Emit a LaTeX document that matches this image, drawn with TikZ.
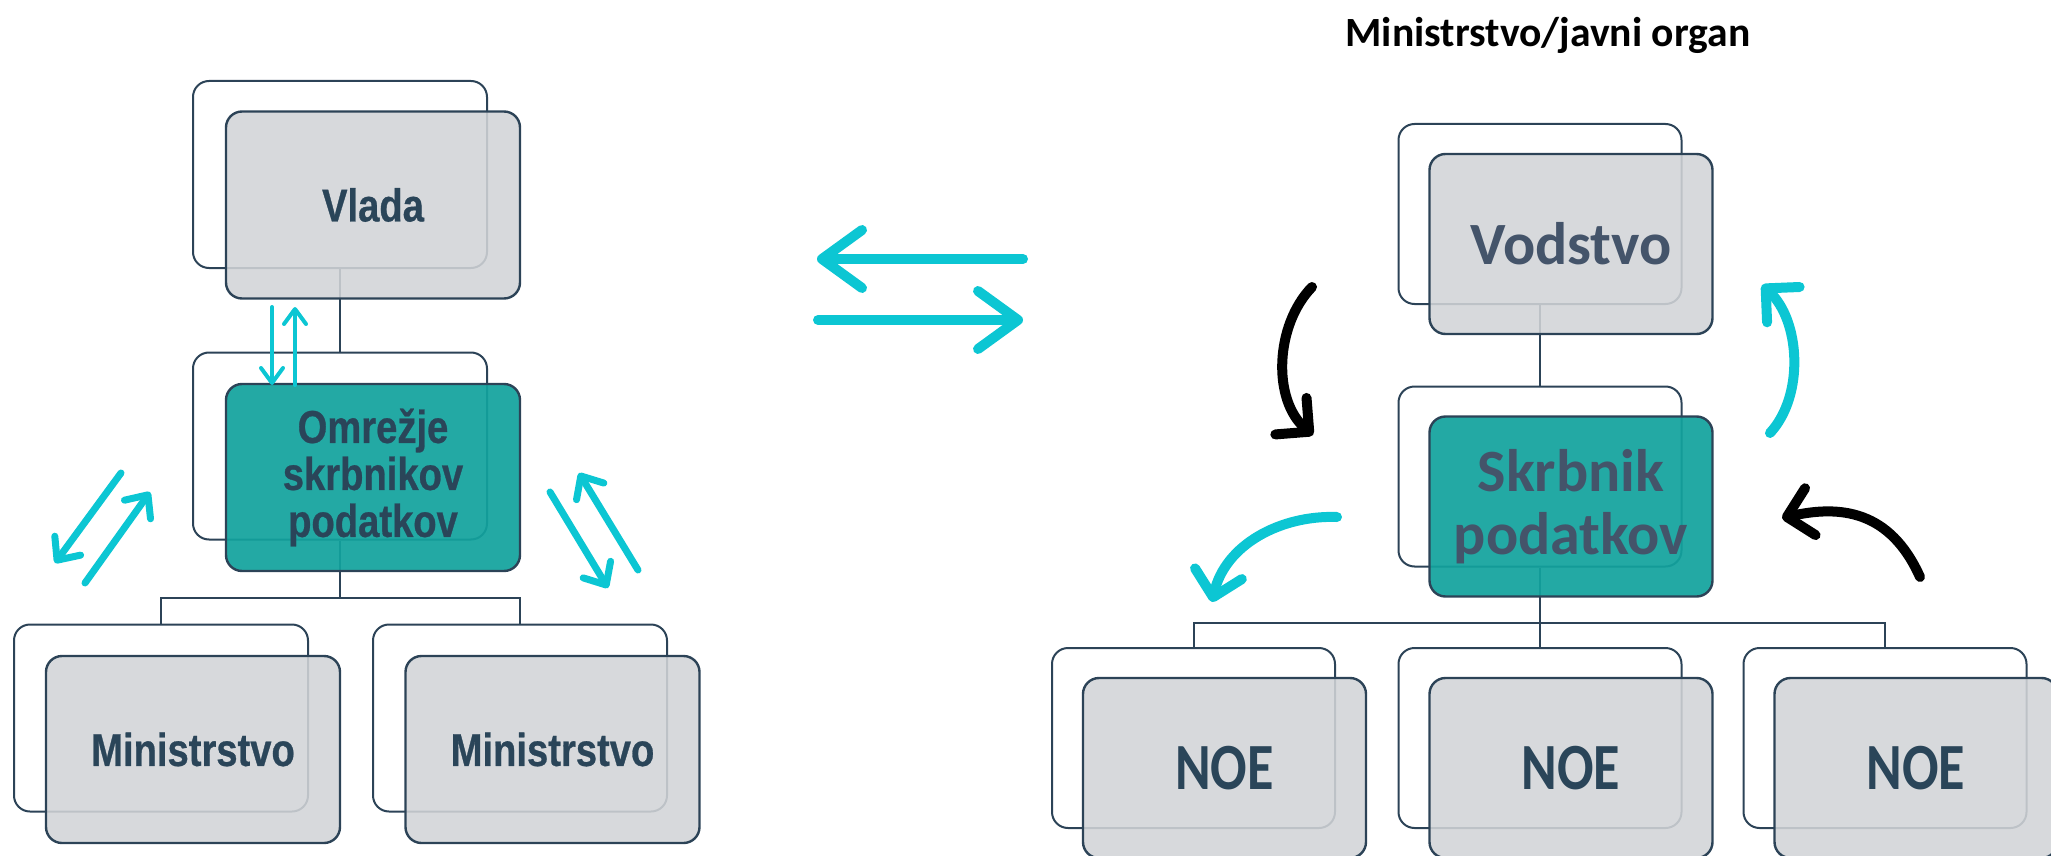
\documentclass[tikz,border=0pt]{standalone}
\usepackage{fontspec}
\setmainfont{Liberation Sans}
\newfontfamily\arialn[FakeStretch=0.83,FakeBold=0.6]{Liberation Sans}
\newfontfamily\calib{Carlito}
\newfontfamily\calibn[FakeStretch=0.82]{Carlito}
\usetikzlibrary{arrows.meta}

\definecolor{edge}{HTML}{2C4357}
\definecolor{boxgrey}{HTML}{D2D4D7}
\definecolor{skrteal}{HTML}{12A29D}
\definecolor{arrcyan}{HTML}{0CC6D3}
\definecolor{txtdark}{HTML}{2A4559}
\definecolor{txtslate}{HTML}{44546A}

\tikzset{
	backbox/.style={draw=edge, line width=1pt, rounded corners=8pt, inner sep=0pt},
	frontbox/.style={draw=edge, line width=1.2pt, rounded corners=8pt, inner sep=0pt,
		fill opacity=0.88, text opacity=1, align=center},
	leftsize/.style={minimum width=147pt, minimum height=93.5pt},
	rightsize/.style={minimum width=141.5pt, minimum height=90pt},
	greybox/.style={frontbox, fill=boxgrey},
	tealbox/.style={frontbox, fill=skrteal, fill opacity=0.93},
	lefttext/.style={font=\arialn\bfseries\fontsize{23}{23.5}\selectfont, text=txtdark},
	righttext/.style={font=\calib\bfseries\fontsize{30}{31.5}\selectfont, text=txtslate},
	noetext/.style={font=\calibn\bfseries\fontsize{33}{33}\selectfont, text=txtdark},
	link/.style={draw=edge, line width=1pt},
	bigarrow/.style={draw=arrcyan, line width=5pt, line cap=round,
		-{Straight Barb[length=20pt,width=29pt,round]}},
	midarrow/.style={draw=arrcyan, line width=3.5pt, line cap=round,
		-{Straight Barb[length=9pt,width=16pt,round]}},
	smallarrow/.style={draw=arrcyan, line width=2pt, line cap=round,
		-{Straight Barb[length=7.5pt,width=11pt,round]}},
	curvearrow/.style={line width=5pt, line cap=round,
		-{Straight Barb[length=12pt,width=24pt,round]}}
}

\begin{document}
\begin{tikzpicture}[x=0.5pt, y=-0.5pt]
	\useasboundingbox (0,0) rectangle (2051,856);

	% left: back outlines
	\node [backbox, leftsize] (vladaB) at (340,174.5) {};
	\node [backbox, leftsize] (omrB) at (340,446) {};
	\node [backbox, leftsize] (minAB) at (161,718) {};
	\node [backbox, leftsize] (minBB) at (520,718) {};
	% |
	\coordinate (splitL) at (340,598);
	\draw [link] (vladaB.south) -- (omrB.north);
	\draw [link] (omrB.south) -- (splitL);
	\draw [link] (minAB.north) |- (splitL) -| (minBB.north);
	% left: boxes
	\node [greybox, leftsize, lefttext] (vlada) at (373,205) {Vlada};
	\node [tealbox, leftsize, lefttext] (omr) at (373,477.5) {Omrežje\\skrbnikov\\podatkov};
	\node [greybox, leftsize, lefttext] (minA) at (193,749.5) {Ministrstvo};
	\node [greybox, leftsize, lefttext] (minB) at (552.5,749.5) {Ministrstvo};

	% left: arrows
	\draw [smallarrow] (272,307) -- (272,385);
	\draw [smallarrow] (295,385) -- (295,307);
	\draw [midarrow] (121,473) -- (55,563);
	\draw [midarrow] (85,583) -- (150,492);
	\draw [midarrow] (550,492) -- (608,588);
	\draw [midarrow] (638,570) -- (579,473);

	% <->
	\draw [bigarrow] (1023,259) -- (817,259);
	\draw [bigarrow] (818,320) -- (1023,320);

	% right: title
	\node [font=\calib\bfseries\fontsize{20.8}{24}\selectfont, anchor=base] (organ) at (1548,47) {Ministrstvo/javni organ};

	% right: back outlines
	\node [backbox, rightsize] (vodB) at (1540,214) {};
	\node [backbox, rightsize] (skrB) at (1540,476.5) {};
	\node [backbox, rightsize] (noeAB) at (1193.5,738) {};
	\node [backbox, rightsize] (noeBB) at (1540,738) {};
	\node [backbox, rightsize] (noeCB) at (1885,738) {};
	% |
	\coordinate (splitR) at (1540,623);
	\draw [link] (vodB.south) -- (skrB.north);
	\draw [link] (skrB.south) -- (noeBB.north);
	\draw [link] (noeAB.north) |- (splitR) -| (noeCB.north);
	% right: boxes
	\node [greybox, rightsize, righttext] (vod) at (1571,244) {Vodstvo};
	\node [tealbox, rightsize, righttext] (skr) at (1571,506.5) {Skrbnik\\podatkov};
	\node [greybox, rightsize, noetext] (noeA) at (1224.5,768) {NOE};
	\node [greybox, rightsize, noetext] (noeB) at (1571,768) {NOE};
	\node [greybox, rightsize, noetext] (noeC) at (1916,768) {NOE};

	% right: curved arrows
	\draw [curvearrow, black] (1312,287) .. controls (1275,325) and (1272,400) .. (1313,435);
	\draw [curvearrow, arrcyan] (1770,433) .. controls (1805,395) and (1800,320) .. (1762,285);
	\draw [curvearrow, arrcyan] (1337,517) .. controls (1280,515) and (1225,545) .. (1212,602);
	\draw [curvearrow, black] (1920,577) .. controls (1890,510) and (1840,505) .. (1782,518);
\end{tikzpicture}
\end{document}
